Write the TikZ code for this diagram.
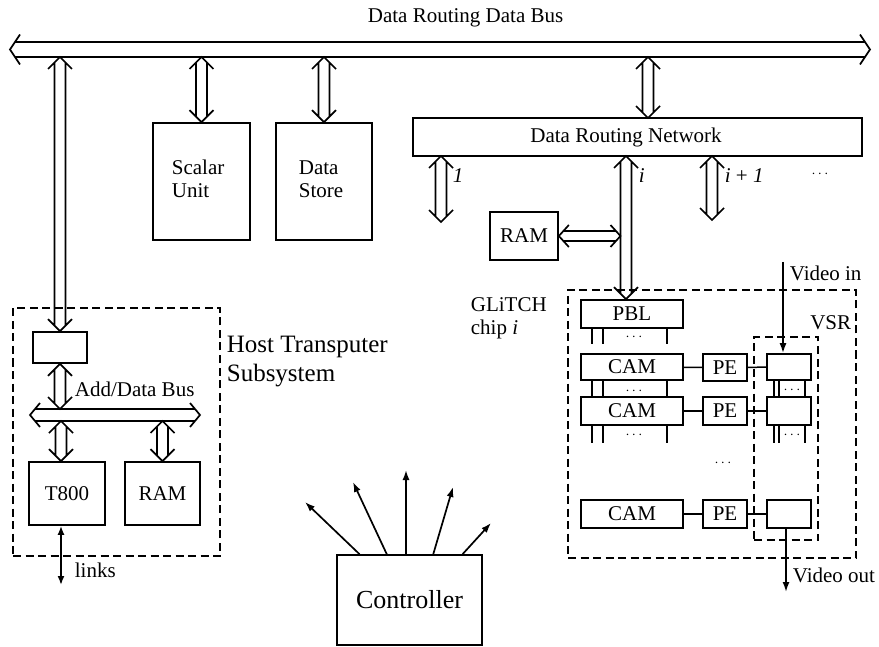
\documentclass[tikz,border=0pt]{standalone}
\usepackage{fontspec}
\setmainfont{Liberation Serif}
\usetikzlibrary{calc,arrows.meta}

% Outline double-headed arrows.
% #1 half shaft width, #2 half head width, #3 head length, #4 first end, #5 second end
\newcommand\hollowV[5]{%
  \draw[hollow] let \p1=(#4), \p2=(#5) in
    (\x1-#1pt,{\y1-#3pt*#1/#2}) -- (\x1-#1pt,{\y2+#3pt*#1/#2})
    (\x1+#1pt,{\y1-#3pt*#1/#2}) -- (\x1+#1pt,{\y2+#3pt*#1/#2})
    (\x1-#2pt,\y1-#3pt) -- (\x1,\y1) -- (\x1+#2pt,\y1-#3pt)
    (\x1-#2pt,\y2+#3pt) -- (\x1,\y2) -- (\x1+#2pt,\y2+#3pt);}
\newcommand\hollowH[5]{%
  \draw[hollow] let \p1=(#4), \p2=(#5) in
    ({\x1+#3pt*#1/#2},\y1+#1pt) -- ({\x2-#3pt*#1/#2},\y1+#1pt)
    ({\x1+#3pt*#1/#2},\y1-#1pt) -- ({\x2-#3pt*#1/#2},\y1-#1pt)
    (\x1+#3pt,\y1+#2pt) -- (\x1,\y1) -- (\x1+#3pt,\y1-#2pt)
    (\x2-#3pt,\y1+#2pt) -- (\x2,\y1) -- (\x2-#3pt,\y1-#2pt);}

\begin{document}
\begin{tikzpicture}[x=1pt,y=-1pt,
  line width=1.7pt,
  rect/.style args={#1,#2,#3,#4}{minimum width={(#3-#1)*1pt}, minimum height={(#4-#2)*1pt},
     at={({(#1+#3)/2},{(#2+#4)/2})}},
  box/.style={draw, line width=1.7pt, inner sep=0pt, font=\fontsize{21}{22}\selectfont},
  dashbox/.style={draw, line width=1.7pt, dash pattern=on 8pt off 4.5pt, inner sep=0pt},
  txt/.style={inner sep=0pt, font=\fontsize{21}{23}\selectfont},
  bigtxt/.style={inner sep=0pt, font=\fontsize{25}{29}\selectfont},
  dots/.style={inner sep=0pt, text height=4pt, text depth=0pt, font=\fontsize{15}{15}\selectfont},
  hollow/.style={line width=1.7pt},
  leg/.style={line width=1.5pt},
  tip/.style={-{Latex[length=10pt,width=7pt]}, line width=1.7pt},
  both/.style={{Latex[length=9pt,width=7pt]}-{Latex[length=9pt,width=7pt]}, line width=1.7pt}]
\useasboundingbox (0,0) rectangle (879,647);

% ---------- main data bus ----------
\node[txt, anchor=west] (title) at (367,18) {Data Routing Data Bus};
\coordinate (busL) at (10,49.5);
\coordinate (busR) at (870,49.5);
\coordinate (busS) at (0,57);
\hollowH{7.5}{15}{10}{busL}{busR}

% ---------- scalar unit and data store ----------
\node[box, rect={153,123,250,240}] (scalar) {};
\node[txt, anchor=west, align=left] (scalarT) at (171,179) {Scalar\\Unit};
\node[box, rect={276,123,372,240}] (store) {};
\node[txt, anchor=west, align=left] (storeT) at (298,179) {Data\\Store};
\hollowV{5.5}{12}{12}{scalar.north |- busS}{scalar.north}
\hollowV{5.5}{12}{12}{store.north |- busS}{store.north}

% ---------- data routing network ----------
\node[box, rect={413,118,862,156}] (drn) {};
\node[txt] (drnT) at (626,137) {Data Routing Network};
\coordinate (drnIn) at (648,118);
\hollowV{5.5}{12}{12}{drnIn |- busS}{drnIn}

\coordinate (o1) at (441,156);  \coordinate (e1) at (441,222);
\coordinate (oi) at (626,156);
\coordinate (oj) at (712,156);  \coordinate (ej) at (712,220);
\coordinate (ishaft) at (620.5,0);
\hollowV{5.5}{12}{12}{o1}{e1}
\hollowV{5.5}{12}{12}{oj}{ej}
\node[txt, anchor=west] (l1) at (452,176) {\itshape 1};
\node[txt, anchor=west] (li) at (638,176) {\itshape i};
\node[txt, anchor=west] (lj) at (724,176) {{\itshape i} + {\itshape 1}};
\node[dots] (lmore) at (820,176) {$\cdots$};

\node[box, rect={490,212,558,260}] (ram) {RAM};
\hollowH{5}{11}{10}{ram.east}{ram.east -| ishaft}

% ---------- host transputer subsystem ----------
\node[dashbox, rect={13,308,220,556}] (hostbox) {};
\node[box, rect={33,332,87,363}] (hostif) {};
\hollowV{5.5}{12}{12}{hostif.north |- busS}{hostif.north}
\node[bigtxt, anchor=west, align=left] (hostT) at (226,362) {Host Transputer\\Subsystem};

\coordinate (hbL) at (30,415);
\coordinate (hbR) at (200,415);
\coordinate (hbT) at (0,409);
\coordinate (hbB) at (0,421);
\hollowH{6}{12}{10}{hbL}{hbR}
\hollowV{5.5}{12}{12}{hostif.south}{hostif.south |- hbT}
\node[txt, anchor=west] (addbus) at (74,389) {Add/Data Bus};

\node[box, rect={29,462,105,525}] (t800) {T800};
\node[box, rect={125,462,200,525}] (ramh) {RAM};
\coordinate (tx) at (61,0);
\hollowV{5.5}{12}{12}{tx |- hbB}{tx |- t800.north}
\hollowV{5.5}{12}{12}{ramh.north |- hbB}{ramh.north}
\coordinate (linksEnd) at (61,585);
\draw[both] (tx |- t800.south) -- (linksEnd);
\node[txt, anchor=west] (linksT) at (74,570) {links};

% ---------- GLiTCH chip ----------
\node[dashbox, rect={568,290,856,558}] (glitch) {};
\node[dashbox, rect={754,337,818,540}] (vsr) {};
\node[txt, anchor=east] (vsrT) at (852,323) {VSR};
\node[txt, anchor=west, align=left] (glitchT) at (470,318) {GLiTCH\\chip {\itshape i}};

\node[box, rect={581,300,683,328}] (pbl) {PBL};
\node[box, rect={581,354,683,380}] (cam1) {CAM};
\node[box, rect={581,397,683,425}] (cam2) {CAM};
\node[box, rect={581,500,683,528}] (cam3) {CAM};
\node[box, rect={703,354,747,381}] (pe1) {PE};
\node[box, rect={703,397,747,425}] (pe2) {PE};
\node[box, rect={703,500,747,528}] (pe3) {PE};
\node[box, rect={767,354,811,380}] (v1) {};
\node[box, rect={767,397,811,425}] (v2) {};
\node[box, rect={767,500,811,528}] (v3) {};

\hollowV{5.5}{12}{12}{oi}{oi |- pbl.north}

\foreach \a/\b in {cam1/pe1, cam2/pe2, cam3/pe3, pe1/v1, pe2/v2, pe3/v3}
  \draw[leg] (\a) -- (\b);

% parallel lines between the stacked memories
\coordinate (la) at (592,0); \coordinate (lb) at (603,0); \coordinate (lc) at (667,0);
\foreach \c in {la,lb,lc} {
  \draw[leg] (pbl.south -| \c) -- ++(0,15);
  \draw[leg] (cam1.south -| \c) -- (cam2.north -| \c);
  \draw[leg] (cam2.south -| \c) -- ++(0,17);
}
\coordinate (va) at (774,0); \coordinate (vb) at (779,0); \coordinate (vc) at (805,0);
\foreach \c in {va,vb,vc} {
  \draw[leg] (v1.south -| \c) -- (v2.north -| \c);
  \draw[leg] (v2.south -| \c) -- ++(0,17);
}
\node[dots] (d1) at (634,339) {$\cdots$};
\node[dots] (d2) at (634,392) {$\cdots$};
\node[dots] (d3) at (634,436) {$\cdots$};
\node[dots] (d4) at (792,391) {$\cdots$};
\node[dots] (d5) at (792,436) {$\cdots$};
\node[dots] (d6) at (723,464) {$\cdots$};

% video path
\coordinate (vin) at (783,262);
\draw[tip] (vin) -- (vin |- v1.north);
\node[txt, anchor=west] (vinT) at (789,273) {Video in};
\coordinate (vout) at (786,592);
\draw[tip] (vout |- v3.south) -- (vout);
\node[txt, anchor=west] (voutT) at (792,575) {Video out};

% ---------- controller ----------
\node[box, rect={337,555,482,645}, font=\fontsize{26}{30}\selectfont] (ctrl) {Controller};
\coordinate (k1) at (305,502);
\coordinate (k2) at (353,482);
\coordinate (k3) at (406,470);
\coordinate (k4) at (453,487);
\coordinate (k5) at (491,523);
\foreach \r/\k in {0.159/k1, 0.345/k2, 0.476/k3, 0.662/k4, 0.862/k5}
  \draw[tip] ($(ctrl.north west)!\r!(ctrl.north east)$) -- (\k);
\end{tikzpicture}
\end{document}
